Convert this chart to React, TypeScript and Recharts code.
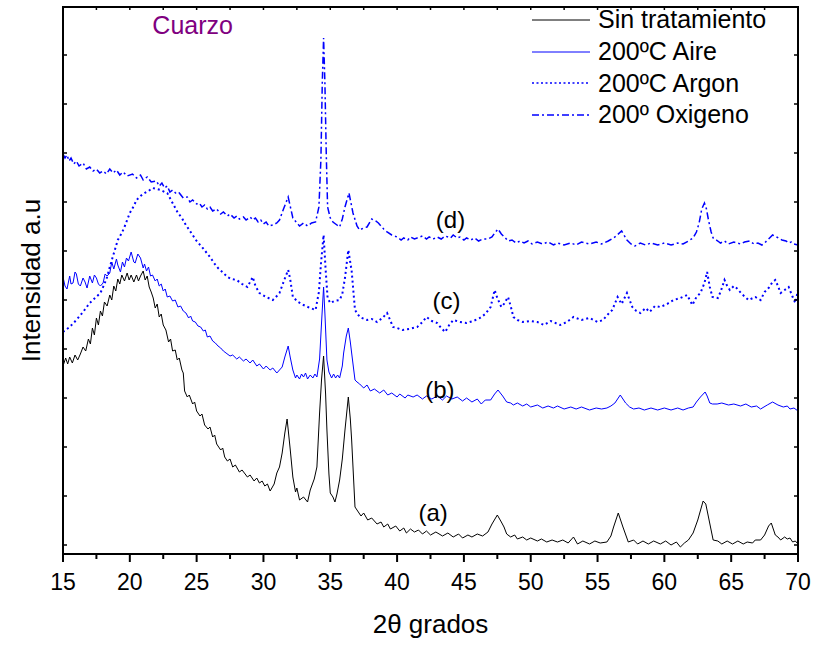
import React from 'react';
import {
  LineChart,
  Line,
  XAxis,
  YAxis,
  Legend,
  Label,
  ReferenceDot,
} from 'recharts';

// 2-theta (grados) vs intensidad (u.a.)
const sinTratamiento: [number, number][] = [
  [15.0, 188], [15.2, 196], [15.35, 190], [15.5, 197], [15.7, 191], [15.9, 199], [16.1, 194],
  [16.3, 200], [16.5, 207], [16.7, 203], [16.9, 215], [17.05, 210], [17.2, 226], [17.35, 219],
  [17.5, 236], [17.65, 229], [17.8, 243], [17.95, 238], [18.1, 252], [18.3, 248], [18.5, 259],
  [18.65, 254], [18.8, 268], [18.95, 263], [19.1, 275], [19.25, 270], [19.4, 279], [19.6, 273],
  [19.8, 281], [19.95, 274], [20.1, 279], [20.3, 272], [20.5, 279], [20.65, 273], [20.8, 278],
  [21.0, 283], [21.15, 274], [21.3, 278], [21.45, 267], [21.6, 262], [21.75, 256], [21.9, 246],
  [22.05, 250], [22.2, 237], [22.35, 240], [22.5, 229], [22.7, 224], [22.9, 212], [23.05, 215],
  [23.2, 203], [23.4, 204], [23.55, 194], [23.7, 196], [23.9, 184], [24.0, 181], [24.1, 163],
  [24.3, 157], [24.45, 159], [24.7, 150], [24.85, 152], [25.0, 143], [25.25, 138], [25.4, 140],
  [25.6, 129], [25.85, 125], [26.0, 127], [26.2, 117], [26.35, 119], [26.5, 110], [26.8, 104],
  [26.95, 106], [27.1, 97], [27.3, 93], [27.5, 95], [27.7, 87], [27.9, 89], [28.2, 82],
  [28.4, 84], [28.8, 77], [29.0, 79], [29.3, 73], [29.5, 76], [29.7, 71], [29.9, 73], [30.1, 68],
  [30.3, 70], [30.5, 63], [30.8, 70], [31.0, 81], [31.2, 87], [31.4, 101], [31.6, 121],
  [31.77, 135], [32.0, 105], [32.2, 77], [32.4, 62], [32.5, 66], [32.7, 54], [33.0, 57],
  [33.3, 52], [33.5, 64], [33.8, 75], [34.0, 87], [34.2, 141], [34.35, 175], [34.5, 198],
  [34.65, 160], [34.75, 124], [34.9, 80], [35.0, 61], [35.2, 57], [35.35, 52], [35.5, 60],
  [35.7, 74], [35.9, 95], [36.1, 124], [36.35, 157], [36.5, 135], [36.6, 114], [36.85, 47],
  [37.1, 42], [37.3, 38], [37.5, 41], [37.8, 34], [38.1, 36], [38.5, 30], [38.8, 32], [39.0, 27],
  [39.3, 30], [39.5, 25], [39.9, 28], [40.2, 23], [40.5, 26], [40.7, 21], [41.0, 25], [41.3, 22],
  [41.6, 24], [41.9, 20], [42.2, 23], [42.5, 19], [42.9, 22], [43.4, 18], [43.8, 21], [44.2, 17],
  [44.6, 20], [44.9, 16], [45.3, 19], [45.6, 17], [46.0, 20], [46.4, 18], [46.8, 22], [47.1, 30],
  [47.5, 39], [47.8, 32], [48.0, 27], [48.2, 20], [48.5, 17], [48.8, 19], [49.0, 15], [49.4, 17],
  [49.7, 14], [50.0, 16], [50.5, 13], [50.8, 15], [51.2, 12], [51.6, 14], [52.0, 12], [52.4, 14],
  [52.8, 11], [53.2, 17], [53.5, 10], [53.9, 13], [54.4, 10], [54.8, 13], [55.2, 11], [55.7, 12],
  [56.0, 18], [56.2, 27], [56.55, 41], [56.9, 27], [57.3, 12], [57.7, 14], [58.0, 10], [58.4, 13],
  [58.8, 10], [59.2, 13], [59.7, 10], [60.1, 13], [60.5, 9], [60.9, 12], [61.2, 7], [61.5, 11],
  [61.8, 14], [62.15, 21], [62.5, 34], [62.9, 53], [63.1, 50], [63.3, 37], [63.65, 14], [64.0, 13],
  [64.3, 10], [64.7, 13], [65.1, 10], [65.5, 13], [65.9, 10], [66.2, 12], [66.6, 11], [66.8, 14],
  [67.2, 14], [67.5, 19], [67.8, 28], [68.0, 31], [68.3, 19], [68.5, 17], [68.7, 14], [69.0, 17],
  [69.2, 15], [69.4, 16], [69.6, 12], [69.8, 13], [70.0, 10],
];

const aire200: [number, number][] = [
  [15.0, 277], [15.15, 268], [15.3, 265], [15.5, 278], [15.6, 270], [15.75, 271], [15.9, 282],
  [16.0, 280], [16.15, 270], [16.3, 268], [16.5, 276], [16.65, 272], [16.8, 266], [17.0, 278],
  [17.2, 271], [17.35, 279], [17.5, 276], [17.65, 270], [17.8, 268], [18.0, 271], [18.15, 280],
  [18.3, 278], [18.5, 281], [18.65, 292], [18.8, 285], [19.0, 295], [19.1, 289], [19.3, 282],
  [19.45, 292], [19.6, 287], [19.75, 296], [19.9, 293], [20.1, 302], [20.3, 292], [20.4, 291],
  [20.6, 300], [20.8, 296], [21.0, 286], [21.1, 290], [21.25, 283], [21.4, 287], [21.55, 278],
  [21.7, 279], [21.9, 273], [22.05, 275], [22.2, 268], [22.35, 270], [22.5, 263], [22.65, 265],
  [22.8, 257], [23.0, 258], [23.2, 253], [23.4, 254], [23.6, 247], [23.8, 248], [24.0, 243],
  [24.2, 241], [24.4, 236], [24.55, 238], [24.7, 233], [24.9, 232], [25.1, 228], [25.3, 227],
  [25.5, 223], [25.65, 224], [25.8, 217], [26.0, 218], [26.2, 213], [26.4, 211], [26.6, 208],
  [26.8, 206], [27.0, 203], [27.2, 201], [27.5, 198], [27.7, 199], [28.0, 195], [28.2, 197],
  [28.5, 193], [28.7, 195], [29.0, 191], [29.2, 194], [29.5, 188], [29.7, 190], [30.0, 185],
  [30.2, 188], [30.5, 184], [30.7, 186], [31.0, 181], [31.2, 184], [31.4, 187], [31.6, 197],
  [31.85, 208], [32.0, 197], [32.2, 184], [32.4, 176], [32.5, 179], [32.7, 175], [32.85, 180],
  [33.0, 177], [33.15, 181], [33.3, 175], [33.5, 179], [33.7, 176], [33.85, 180], [34.0, 177],
  [34.2, 195], [34.35, 232], [34.5, 267], [34.6, 240], [34.75, 194], [34.9, 182], [35.1, 176],
  [35.25, 180], [35.4, 176], [35.55, 179], [35.7, 176], [35.9, 188], [36.0, 201], [36.2, 218],
  [36.35, 226], [36.5, 212], [36.6, 201], [36.85, 174], [37.0, 172], [37.2, 170], [37.5, 166],
  [37.75, 169], [38.0, 163], [38.3, 165], [38.7, 161], [39.0, 164], [39.3, 159], [39.6, 161],
  [40.0, 157], [40.2, 160], [40.6, 156], [40.8, 159], [41.2, 157], [41.5, 159], [41.9, 155],
  [42.2, 158], [42.6, 155], [43.0, 158], [43.4, 154], [43.7, 158], [44.1, 155], [44.5, 157],
  [44.9, 153], [45.2, 156], [45.6, 152], [46.0, 155], [46.3, 150], [46.6, 154], [47.0, 154],
  [47.3, 160], [47.55, 164], [47.9, 158], [48.2, 152], [48.5, 151], [48.7, 149], [49.0, 151],
  [49.4, 148], [49.7, 150], [50.0, 147], [50.5, 149], [50.9, 146], [51.3, 148], [51.7, 146],
  [52.0, 148], [52.5, 145], [53.0, 147], [53.4, 145], [53.8, 147], [54.4, 144], [54.9, 146],
  [55.3, 145], [55.7, 146], [56.0, 148], [56.3, 151], [56.7, 159], [57.1, 151], [57.4, 147],
  [57.7, 145], [58.1, 146], [58.5, 144], [59.0, 146], [59.5, 144], [60.0, 146], [60.5, 144],
  [61.0, 146], [61.4, 144], [61.8, 146], [62.15, 147], [62.4, 152], [62.7, 157], [63.05, 162],
  [63.2, 158], [63.4, 151], [63.6, 150], [63.95, 150], [64.3, 151], [64.8, 149], [65.2, 150],
  [65.7, 148], [66.1, 150], [66.5, 147], [66.9, 148], [67.2, 145], [67.7, 149], [68.1, 152],
  [68.5, 149], [68.9, 147], [69.2, 148], [69.4, 145], [69.7, 146], [70.0, 143],
];

const argon200: [number, number][] = [
  [15.0, 222], [15.5, 227], [16.0, 234], [16.5, 242], [17.0, 251], [17.4, 256], [17.8, 261],
  [18.1, 270], [18.3, 277], [18.5, 287], [18.7, 296], [18.9, 305], [19.1, 314], [19.4, 321],
  [19.6, 327], [19.8, 334], [20.0, 341], [20.3, 348], [20.5, 354], [20.8, 358], [21.1, 361],
  [21.4, 363], [21.7, 366], [22.0, 365], [22.3, 364], [22.6, 362], [22.8, 361], [23.0, 356],
  [23.2, 351], [23.4, 346], [23.6, 341], [23.9, 336], [24.1, 331], [24.4, 325], [24.7, 319],
  [25.0, 313], [25.4, 307], [25.7, 302], [26.0, 297], [26.3, 291], [26.6, 286], [27.0, 281],
  [27.3, 277], [27.6, 275], [28.0, 274], [28.4, 270], [28.8, 267], [29.2, 277], [29.4, 268],
  [29.7, 261], [30.2, 257], [30.7, 254], [31.0, 258], [31.2, 261], [31.5, 272], [31.85, 284],
  [32.0, 275], [32.2, 257], [32.6, 252], [33.0, 249], [33.5, 246], [33.9, 244], [34.15, 262],
  [34.3, 290], [34.5, 319], [34.65, 285], [34.8, 256], [35.0, 251], [35.3, 253], [35.7, 254],
  [35.9, 260], [36.1, 276], [36.35, 304], [36.6, 283], [36.85, 244], [37.2, 237], [37.75, 234],
  [38.1, 235], [38.5, 232], [38.9, 236], [39.25, 241], [39.7, 227], [40.0, 226], [40.4, 224],
  [40.9, 225], [41.5, 227], [41.9, 232], [42.2, 237], [42.6, 233], [43.0, 231], [43.3, 226],
  [43.6, 222], [43.9, 229], [44.2, 234], [44.7, 232], [45.2, 231], [45.7, 233], [46.2, 236],
  [46.6, 240], [47.0, 247], [47.3, 264], [47.5, 256], [47.8, 247], [48.0, 250], [48.3, 257],
  [48.5, 248], [48.7, 237], [49.0, 234], [49.4, 232], [50.0, 233], [50.5, 232], [51.0, 229],
  [51.5, 233], [52.2, 229], [52.7, 232], [53.2, 237], [53.8, 234], [54.4, 236], [55.0, 232],
  [55.4, 234], [55.8, 240], [56.1, 244], [56.5, 257], [56.8, 250], [57.2, 261], [57.6, 247],
  [57.9, 243], [58.2, 241], [58.6, 246], [58.9, 242], [59.3, 248], [59.7, 247], [60.2, 250],
  [60.7, 254], [61.2, 256], [61.7, 259], [62.1, 249], [62.4, 257], [62.7, 261], [63.0, 271],
  [63.2, 282], [63.4, 267], [63.6, 257], [64.0, 256], [64.2, 262], [64.5, 274], [64.7, 268],
  [64.9, 264], [65.2, 268], [65.4, 266], [65.8, 260], [66.3, 254], [66.8, 257], [67.2, 254],
  [67.5, 262], [67.8, 266], [68.1, 272], [68.3, 274], [68.5, 268], [68.7, 261], [69.0, 264],
  [69.3, 267], [69.6, 257], [69.8, 251], [70.0, 264],
];

const oxigeno200: [number, number][] = [
  [15.0, 400], [15.15, 396], [15.3, 399], [15.45, 393], [15.6, 396], [15.8, 390], [16.0, 393],
  [16.2, 388], [16.5, 391], [16.75, 385], [17.0, 387], [17.25, 383], [17.5, 385], [17.75, 381],
  [18.0, 383], [18.25, 380], [18.5, 385], [18.75, 381], [19.0, 384], [19.25, 379], [19.5, 382],
  [19.8, 378], [20.2, 380], [20.5, 376], [20.8, 379], [21.0, 374], [21.3, 377], [21.6, 372],
  [22.0, 373], [22.2, 368], [22.4, 371], [22.6, 366], [22.8, 368], [23.0, 362], [23.2, 364],
  [23.5, 360], [23.7, 361], [24.0, 356], [24.3, 357], [24.5, 352], [24.7, 354], [25.0, 350],
  [25.2, 351], [25.4, 347], [25.6, 349], [25.8, 345], [26.0, 347], [26.2, 343], [26.5, 345],
  [26.8, 340], [27.0, 342], [27.3, 338], [27.5, 340], [27.8, 336], [28.0, 338], [28.2, 335],
  [28.5, 337], [28.7, 334], [29.0, 337], [29.2, 334], [29.4, 336], [29.6, 332], [29.8, 334],
  [30.0, 330], [30.2, 332], [30.4, 328], [30.7, 329], [31.0, 331], [31.2, 334], [31.5, 345],
  [31.85, 357], [32.0, 348], [32.2, 336], [32.5, 331], [32.7, 328], [33.0, 331], [33.3, 328],
  [33.6, 331], [33.9, 332], [34.15, 347], [34.3, 395], [34.4, 470], [34.5, 516], [34.6, 470],
  [34.7, 400], [34.8, 347], [35.0, 336], [35.2, 332], [35.5, 329], [35.7, 327], [35.9, 335],
  [36.1, 347], [36.4, 361], [36.7, 341], [37.0, 328], [37.2, 324], [37.5, 326], [37.75, 327],
  [38.1, 335], [38.4, 333], [38.6, 331], [39.0, 325], [39.25, 322], [39.6, 319], [40.0, 317],
  [40.3, 314], [40.5, 316], [40.8, 314], [41.0, 317], [41.3, 315], [41.5, 316], [41.9, 318],
  [42.2, 315], [42.4, 317], [42.7, 315], [43.0, 317], [43.3, 315], [43.6, 318], [44.0, 316],
  [44.2, 319], [44.5, 316], [44.7, 317], [45.0, 314], [45.2, 316], [45.5, 314], [45.8, 316],
  [46.1, 313], [46.4, 315], [46.8, 315], [47.1, 317], [47.3, 321], [47.55, 325], [47.8, 320],
  [48.1, 316], [48.3, 313], [48.6, 314], [48.9, 311], [49.2, 313], [49.5, 311], [49.8, 313],
  [50.1, 310], [50.5, 312], [50.9, 310], [51.3, 312], [51.7, 309], [52.0, 311], [52.5, 309],
  [53.0, 311], [53.4, 309], [53.8, 312], [54.4, 310], [54.9, 312], [55.3, 310], [55.8, 313],
  [56.3, 317], [56.8, 323], [57.2, 314], [57.5, 310], [57.8, 308], [58.2, 311], [58.6, 309],
  [59.0, 311], [59.5, 309], [60.0, 311], [60.5, 309], [61.0, 311], [61.4, 310], [61.8, 313],
  [62.15, 316], [62.4, 322], [62.6, 331], [62.8, 345], [63.0, 351], [63.15, 345], [63.3, 334],
  [63.5, 322], [63.65, 316], [64.0, 313], [64.2, 311], [64.5, 313], [64.8, 310], [65.2, 312],
  [65.7, 310], [66.0, 312], [66.4, 313], [66.7, 310], [67.0, 311], [67.3, 309], [67.5, 311],
  [67.8, 315], [68.1, 319], [68.4, 317], [68.8, 314], [69.1, 313], [69.3, 311], [69.5, 312],
  [69.7, 310], [70.0, 309],
];

const xTicks = [15, 17.5, 20, 22.5, 25, 27.5, 30, 32.5, 35, 37.5, 40, 42.5, 45, 47.5, 50, 52.5, 55, 57.5, 60, 62.5, 65, 67.5, 70];
const yTicks = [9, 58, 107, 156, 205, 254, 303, 352, 401, 450, 499];
const xDomain = [15, 70];
const yDomain = [0, 547];

const curveLabels = [
  { text: '(a)', x: 42.7, y: 42 },
  { text: '(b)', x: 43.2, y: 165 },
  { text: '(c)', x: 43.7, y: 254 },
  { text: '(d)', x: 44.0, y: 335 },
];

const series = [
  { name: 'Sin tratamiento', data: sinTratamiento, color: '#000000', dash: undefined, width: 1 },
  { name: '200ºC Aire', data: aire200, color: '#0000ff', dash: undefined, width: 1 },
  { name: '200ºC Argon', data: argon200, color: '#0000ff', dash: '2 3', width: 2 },
  { name: '200º Oxigeno', data: oxigeno200, color: '#0000ff', dash: '7 3 2 3', width: 1.5 },
];

const FONT = '"Liberation Sans", Arial, sans-serif';
const W = 816;
const H = 645;
const MARGIN = { top: 7, right: 18, bottom: 91, left: 63 };
const plotW = W - MARGIN.left - MARGIN.right;
const plotH = H - MARGIN.top - MARGIN.bottom;

const toPoints = (d: [number, number][]) => d.map(([x, y]) => ({ x, y }));

function BottomTick(props: any) {
  const { x, y, payload } = props;
  const major = payload.value % 5 === 0;
  return (
    <g>
      <line x1={x} y1={y} x2={x} y2={y + (major ? 8 : 5)} stroke="#000" strokeWidth={2} />
      {major && (
        <text x={x} y={y + 36} textAnchor="middle" fontSize={23} fontFamily={FONT} fill="#000">
          {payload.value}
        </text>
      )}
    </g>
  );
}

// box around the plot with the small inward ticks on top, left and right
function Frame() {
  const px = (v: number) => MARGIN.left + ((v - xDomain[0]) / (xDomain[1] - xDomain[0])) * plotW;
  const py = (v: number) => MARGIN.top + plotH - ((v - yDomain[0]) / (yDomain[1] - yDomain[0])) * plotH;
  const right = MARGIN.left + plotW;
  return (
    <svg
      width={W}
      height={H}
      style={{ position: 'absolute', left: 0, top: 0, pointerEvents: 'none' }}
    >
      <rect x={MARGIN.left} y={MARGIN.top} width={plotW} height={plotH} fill="none" stroke="#000" strokeWidth={2} />
      {xTicks.map((t) => (
        <line key={'t' + t} x1={px(t)} x2={px(t)} y1={MARGIN.top} y2={MARGIN.top + 3} stroke="#000" strokeWidth={1.5} />
      ))}
      {yTicks.map((t) => (
        <g key={'y' + t}>
          <line x1={MARGIN.left} x2={MARGIN.left + 4} y1={py(t)} y2={py(t)} stroke="#000" strokeWidth={1.5} />
          <line x1={right - 4} x2={right} y1={py(t)} y2={py(t)} stroke="#000" strokeWidth={1.5} />
        </g>
      ))}
    </svg>
  );
}

function LegendBox() {
  return (
    <div style={{ fontFamily: FONT, fontSize: 25, color: '#000', lineHeight: 1 }}>
      {series.map((s) => (
        <div key={s.name} style={{ display: 'flex', alignItems: 'center', height: 31.7 }}>
          <svg width={58} height={6} style={{ display: 'block' }}>
            <line
              x1={0}
              y1={3}
              x2={58}
              y2={3}
              stroke={s.color}
              strokeWidth={s.dash ? 1.5 : 1}
              strokeDasharray={s.dash === '2 3' ? '2 2.5' : s.dash}
            />
          </svg>
          <span style={{ marginLeft: 8, whiteSpace: 'nowrap' }}>{s.name}</span>
        </div>
      ))}
    </div>
  );
}

export default function App() {
  return (
    <div style={{ position: 'absolute', left: 0, top: 0, width: W, height: H, background: '#fff' }}>
      <LineChart width={W} height={H} margin={{ top: MARGIN.top, right: MARGIN.right, bottom: 0, left: 0 }}>
        <XAxis
          xAxisId="x"
          type="number"
          dataKey="x"
          domain={xDomain}
          ticks={xTicks}
          allowDataOverflow
          height={MARGIN.bottom}
          tickSize={0}
          tickMargin={0}
          tickLine={false}
          tick={<BottomTick />}
          axisLine={{ stroke: '#000', strokeWidth: 2 }}
          interval={0}
        >
          <Label
            value="2θ grados"
            position="insideBottom"
            offset={12}
            style={{ fontSize: 26, fontFamily: FONT, fill: '#000' }}
          />
        </XAxis>
        <YAxis
          yAxisId="main"
          type="number"
          domain={yDomain}
          ticks={yTicks}
          allowDataOverflow
          width={MARGIN.left}
          tick={false}
          tickLine={false}
          axisLine={{ stroke: '#000', strokeWidth: 2 }}
          interval={0}
        >
          <Label
            value="Intensidad a.u"
            angle={-90}
            position="center"
            dx={-1}
            style={{ fontSize: 26, fontFamily: FONT, fill: '#000' }}
          />
        </YAxis>
        {series.map((s) => (
          <Line
            key={s.name}
            xAxisId="x"
            yAxisId="main"
            data={toPoints(s.data)}
            dataKey="y"
            name={s.name}
            type="linear"
            stroke={s.color}
            strokeWidth={s.width}
            strokeDasharray={s.dash}
            dot={false}
            activeDot={false}
            isAnimationActive={false}
          />
        ))}
        {curveLabels.map((c) => (
          <ReferenceDot
            key={c.text}
            xAxisId="x"
            yAxisId="main"
            x={c.x}
            y={c.y}
            r={1}
            fill="none"
            stroke="none"
            label={{ value: c.text, position: 'center', fontSize: 24, fontFamily: FONT, fill: '#000' }}
          />
        ))}
        <ReferenceDot
          xAxisId="x"
          yAxisId="main"
          x={24.7}
          y={529}
          r={1}
          fill="none"
          stroke="none"
          label={{ value: 'Cuarzo', position: 'center', fontSize: 25, fontFamily: FONT, fill: '#800080' }}
        />
        <Legend
          layout="vertical"
          align="center"
          verticalAlign="middle"
          content={() => <LegendBox />}
          wrapperStyle={{ top: 4, left: 532, width: 270, height: 130 }}
        />
      </LineChart>
      <Frame />
    </div>
  );
}
